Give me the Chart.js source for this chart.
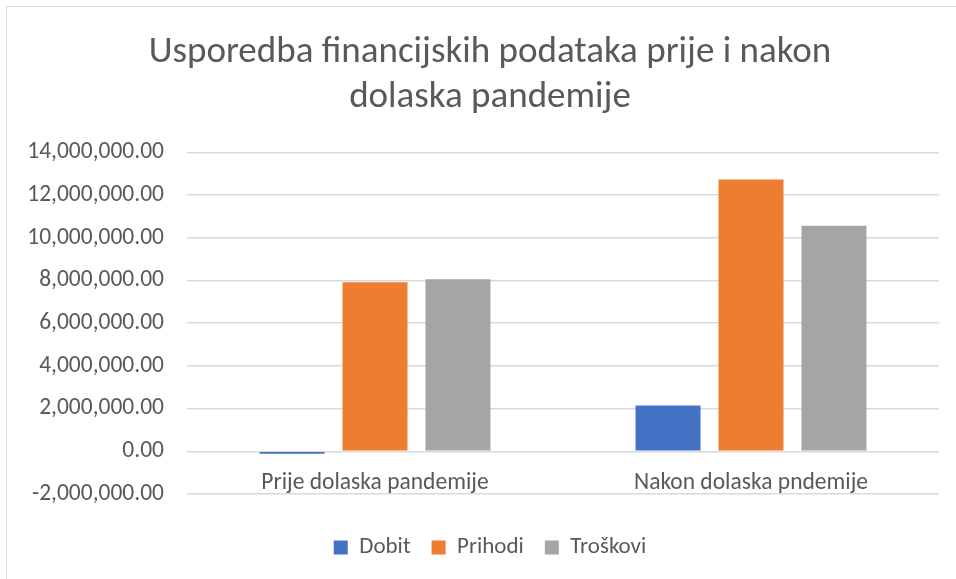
<!DOCTYPE html>
<html>
<head>
<meta charset="utf-8">
<script src="https://cdn.jsdelivr.net/npm/chart.js@4"></script>
<style>
  html, body { margin: 0; padding: 0; background: #fff; }
  #wrap { position: relative; width: 956px; height: 579px; overflow: hidden; }
  #frame { position: absolute; left: 6px; top: 6px; width: 980px; height: 600px; border: 1.5px solid #d9d9d9; box-sizing: border-box; }
  #chart { position: absolute; left: 0; top: 0; }
</style>
</head>
<body>
<div id="wrap">
  <div id="frame"></div>
  <canvas id="chart" width="956" height="579"></canvas>
</div>
<script>
const categories = ["Prije dolaska pandemije", "Nakon dolaska pndemije"];
const dobit = [-120000, 2140000];
const prihodi = [7910000, 12720000];
const troskovi = [8050000, 10560000];

const font = "Calibri, Carlito, 'Open Sans', 'Noto Sans', sans-serif";
const textColor = "#595959";

// y labels stick out to the left of the padded area, so don't clip them
const unclipY = {
  id: "unclipY",
  beforeDraw(chart) {
    chart.scales.y.left = 0;
  },
};

const ctx = document.getElementById("chart").getContext("2d");

new Chart(ctx, {
  type: "bar",
  data: {
    labels: categories,
    datasets: [
      { label: "Dobit", data: dobit, backgroundColor: "#4472C4" },
      { label: "Prihodi", data: prihodi, backgroundColor: "#ED7D31" },
      { label: "Troškovi", data: troskovi, backgroundColor: "#A5A5A5" },
    ],
  },
  plugins: [unclipY],
  options: {
    responsive: false,
    animation: false,
    categoryPercentage: 0.662,
    barPercentage: 0.783,
    layout: {
      padding: { left: 41, right: 17, top: 30, bottom: 10 },
    },
    plugins: {
      title: {
        display: true,
        text: ["Usporedba financijskih podataka prije i nakon", "dolaska pandemije"],
        color: textColor,
        font: { family: font, size: 37, weight: "normal", lineHeight: 1.22 },
        padding: { top: 0, bottom: 32 },
      },
      legend: {
        position: "bottom",
        // empty legend title only adds the gap above the legend row
        title: {
          display: true,
          text: "",
          font: { size: 1, lineHeight: 1 },
          padding: { top: 0, bottom: 20 },
        },
        labels: {
          color: textColor,
          font: { family: font, size: 23 },
          boxWidth: 14,
          boxHeight: 14,
          padding: 21,
        },
      },
      tooltip: { enabled: false },
    },
    scales: {
      x: {
        position: { y: 0 },
        grid: { display: false },
        border: { display: false },
        ticks: {
          color: textColor,
          font: { family: font, size: 23.5 },
          padding: 10,
        },
      },
      y: {
        min: -2000000,
        max: 14000000,
        afterFit: function (scale) {
          scale.width = 146;
        },
        ticks: {
          stepSize: 2000000,
          color: textColor,
          font: { family: font, size: 23.5 },
          padding: 23,
          callback: function (value) {
            return value.toLocaleString("en-US", { minimumFractionDigits: 2, maximumFractionDigits: 2 });
          },
        },
        grid: { color: "#d9d9d9", lineWidth: 1.5, drawTicks: false },
        border: { display: false },
      },
    },
  },
});
</script>
</body>
</html>
